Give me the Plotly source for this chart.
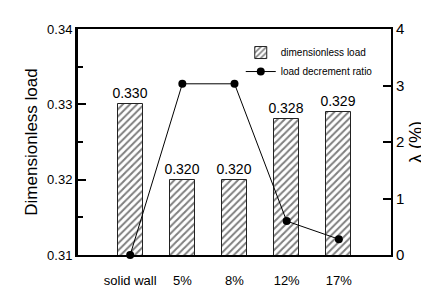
import plotly.graph_objects as go

categories = ["solid wall", "5%", "8%", "12%", "17%"]
load = [0.330, 0.320, 0.320, 0.328, 0.329]
load_labels = ["0.330", "0.320", "0.320", "0.328", "0.329"]
ratio = [0.0, 3.03, 3.03, 0.6, 0.28]

x = list(range(len(categories)))

fig = go.Figure()
fig.add_trace(go.Bar(
    x=x, y=load, width=0.48, name="dimensionless load",
    marker=dict(color="white", line=dict(color="#222", width=1),
                pattern=dict(shape="/", fgcolor="black", bgcolor="white", size=5, solidity=0.4)),
    text=load_labels, textposition="outside", cliponaxis=False, constraintext="none",
    textfont=dict(family="Liberation Sans Narrow, Arial Narrow, Liberation Sans", size=14, color="black"),
    yaxis="y"))
fig.add_trace(go.Scatter(
    x=x, y=ratio, name="load decrement ratio", mode="lines+markers",
    line=dict(color="black", width=1), marker=dict(color="black", size=8),
    cliponaxis=False, yaxis="y2"))

fig.update_layout(
    width=429, height=292, margin=dict(l=70, r=46, t=16, b=34),
    plot_bgcolor="white", paper_bgcolor="white",
    font=dict(family="Liberation Sans", color="black"),
    bargap=0,
    xaxis=dict(range=[-1, 5], tickvals=x, ticktext=categories, showline=True, linecolor="black",
               linewidth=2, mirror=True, ticks="", ticklabelstandoff=12,
               tickfont=dict(size=13, family="Liberation Sans Narrow, Liberation Sans"), showgrid=False, zeroline=False),
    yaxis=dict(range=[0.31, 0.34], tickvals=[0.31, 0.32, 0.33, 0.34], ticktext=["0.31", "0.32", "0.33", "0.34"],
               showline=True, linecolor="black", linewidth=3, ticks="inside", ticklen=8, tickwidth=2,
               tickcolor="black", showgrid=False, zeroline=False,
               minor=dict(tickvals=[0.315, 0.325, 0.335], ticks="inside", ticklen=5, tickwidth=2, tickcolor="black"),
               tickfont=dict(size=13, family="Liberation Sans Narrow, Liberation Sans"),
               title=dict(text="Dimensionless load", font=dict(size=17), standoff=6)),
    yaxis2=dict(range=[0, 4], tickvals=[0, 1, 2, 3, 4], overlaying="y", side="right",
                showline=True, linecolor="black", linewidth=2, ticks="inside", ticklen=8, tickwidth=2,
                tickcolor="black", showgrid=False, zeroline=False,
                tickfont=dict(size=15),
                title=dict(text="λ (%)", font=dict(size=18), standoff=6)),
    legend=dict(x=0.52, y=0.96, xanchor="left", yanchor="top", bgcolor="rgba(0,0,0,0)",
                font=dict(size=10, family="Liberation Sans Narrow, Liberation Sans"),
                itemwidth=30, tracegroupgap=0),
    showlegend=True,
)

fig.write_html("out.html")
